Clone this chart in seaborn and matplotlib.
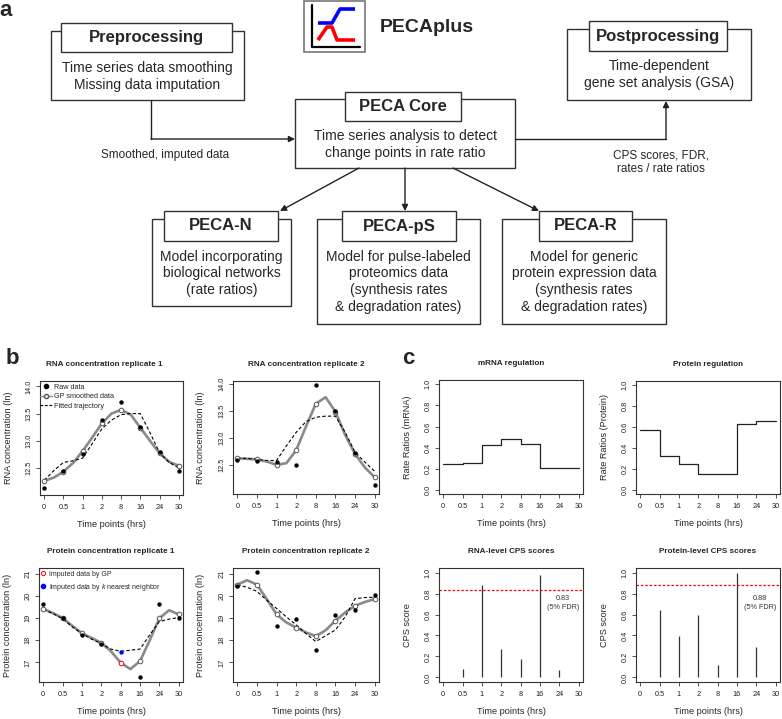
import numpy as np
import matplotlib
matplotlib.use("Agg")
import matplotlib.pyplot as plt
from matplotlib.patches import Rectangle
from matplotlib.lines import Line2D
import seaborn as sns

# ---- data ----
time_labels = ["0", "0.5", "1", "2", "8", "16", "24", "30"]
time_pos = np.arange(1, 9)
curve_pos = np.arange(1, 8.5, 0.5)

rna1_raw = [12.12, 12.44, 12.76, 13.39, 13.71, 13.26, 12.79, 12.44]
rna1_gp = [12.26, 12.43, 12.81, 13.32, 13.57, 13.24, 12.77, 12.54]
rna1_gp_curve = [12.26, 12.32, 12.43, 12.59, 12.81, 13.06, 13.32, 13.50, 13.57,
                 13.48, 13.24, 13.00, 12.77, 12.61, 12.54]
rna1_fit = [12.27, 12.45, 12.60, 12.63, 12.68, 12.95, 13.22, 13.38, 13.48,
            13.50, 13.50, 13.15, 12.78, 12.60, 12.50]

rna2_raw = [12.59, 12.57, 12.55, 12.50, 13.98, 13.49, 12.71, 12.12]
rna2_gp = [12.62, 12.60, 12.50, 12.77, 13.63, 13.48, 12.70, 12.27]
rna2_gp_curve = [12.62, 12.61, 12.60, 12.56, 12.50, 12.53, 12.77, 13.21, 13.63,
                 13.75, 13.48, 13.05, 12.70, 12.45, 12.27]
rna2_fit = [12.62, 12.62, 12.60, 12.58, 12.58, 12.85, 13.10, 13.30, 13.38,
            13.40, 13.40, 13.10, 12.73, 12.55, 12.38]

prot1_raw = [19.63, 19.00, 18.25, 17.84, np.nan, 16.33, 19.63, 19.01]
prot1_gp = [19.42, 19.00, 18.31, 17.88, np.nan, 17.06, 18.99, 19.16]
prot1_gp_imputed = 16.99
prot1_knn_imputed = 17.45
prot1_gp_curve = [19.42, 19.22, 19.00, 18.65, 18.31, 18.10, 17.88, 17.50, 16.99,
                  16.70, 17.06, 18.00, 18.99, 19.35, 19.16]
prot1_fit = [19.38, 19.20, 18.97, 18.60, 18.30, 18.05, 17.85, 17.60, 17.50,
             17.55, 17.60, 18.24, 18.84, 18.95, 19.02]

prot2_raw = [20.46, 21.06, 18.64, 18.94, 17.57, 19.15, 19.36, 20.04]
prot2_gp = [20.50, 20.50, 19.16, 18.57, 18.18, 18.88, 19.55, 19.85]
prot2_gp_curve = [20.50, 20.70, 20.50, 19.85, 19.16, 18.80, 18.57, 18.35, 18.18,
                  18.45, 18.88, 19.25, 19.55, 19.72, 19.85]
prot2_fit = [20.50, 20.38, 20.20, 19.80, 19.43, 19.05, 18.69, 18.30, 17.94,
             18.20, 18.46, 19.06, 19.87, 19.92, 19.93]

mrna_ratio = [0.25, 0.255, 0.425, 0.478, 0.434, 0.21, 0.207, 0.207]
prot_ratio = [0.57, 0.326, 0.248, 0.154, 0.15, 0.633, 0.661, 0.661]

rna_cps = [0, 0.079, 0.88, 0.268, 0.174, 0.975, 0.069, 0]
prot_cps = [0, 0.647, 0.394, 0.596, 0.117, 1.0, 0.287, 0]
rna_fdr, rna_fdr_label = 0.835, "0.83"
prot_fdr, prot_fdr_label = 0.886, "0.88"

# ---- style ----
sns.set_theme(style="ticks")
plt.rcParams['font.family'] = ['Liberation Sans', 'DejaVu Sans']
plt.rcParams['mathtext.fontset'] = 'custom'
plt.rcParams['mathtext.rm'] = 'Liberation Sans'
plt.rcParams['mathtext.it'] = 'Liberation Sans:italic'

W, H = 782, 719
fig = plt.figure(figsize=(W / 100, H / 100), dpi=100)


def px_axes(left, top, right, bottom):
    return fig.add_axes([left / W, 1 - bottom / H, (right - left) / W, (bottom - top) / H])


# ---- panel a: workflow diagram (pixel coordinates) ----
ax_a = fig.add_axes([0, 0, 1, 1])
ax_a.set_xlim(0, W)
ax_a.set_ylim(H, 0)
ax_a.axis('off')

EDGE = '#333333'


def node(outer, head, title, lines, y0):
    x0, t0, x1, b0 = outer
    ax_a.add_patch(Rectangle((x0, t0), x1 - x0, b0 - t0, fill=False, ec=EDGE, lw=1))
    hx0, ht, hx1, hb = head
    ax_a.add_patch(Rectangle((hx0, ht), hx1 - hx0, hb - ht, fc='white', ec=EDGE, lw=1, zorder=3))
    ax_a.text((hx0 + hx1) / 2, (ht + hb) / 2, title, ha='center', va='center',
              fontsize=12, fontweight='bold', zorder=4)
    for i, s in enumerate(lines):
        ax_a.text((x0 + x1) / 2, y0 + i * 16.5, s, ha='center', va='center', fontsize=10)


node((51, 31, 244, 100), (61, 23, 232, 52), "Preprocessing",
     ["Time series data smoothing", "Missing data imputation"], 68)
node((567, 29, 751, 100), (589, 21, 727, 51), "Postprocessing",
     ["Time-dependent", "gene set analysis (GSA)"], 66)
node((295, 99, 515, 168), (345, 92, 461, 121), "PECA Core",
     ["Time series analysis to detect", "change points in rate ratio"], 136)
node((152, 219, 291, 306), (164, 211, 278, 241), "PECA-N",
     ["Model incorporating", "biological networks", "(rate ratios)"], 257)
node((317, 219, 480, 324), (342, 211, 456, 241), "PECA-pS",
     ["Model for pulse-labeled", "proteomics data", "(synthesis rates", "& degradation rates)"], 257)
node((502, 219, 666, 324), (539, 211, 632, 241), "PECA-R",
     ["Model for generic", "protein expression data", "(synthesis rates", "& degradation rates)"], 257)

arrow = dict(arrowstyle='-|>', color='#222222', lw=1, mutation_scale=9, shrinkA=0, shrinkB=0)
ax_a.plot([151, 151], [100, 139], color='#222222', lw=1)
ax_a.annotate('', xy=(295, 139), xytext=(151, 139), arrowprops=arrow)
ax_a.plot([515, 666], [139, 139], color='#222222', lw=1)
ax_a.annotate('', xy=(666, 101), xytext=(666, 139), arrowprops=arrow)
for (sx, sy), (ex, ey) in [((359, 168), (280, 211)), ((405, 168), (405, 211)), ((453, 168), (539, 211))]:
    ax_a.annotate('', xy=(ex, ey), xytext=(sx, sy), arrowprops=arrow)

ax_a.text(165, 155, "Smoothed, imputed data", ha='center', va='center', fontsize=8.5)
ax_a.text(661, 155, "CPS scores, FDR,", ha='center', va='center', fontsize=8.5)
ax_a.text(661, 169, "rates / rate ratios", ha='center', va='center', fontsize=8.5)

# logo
ax_a.add_patch(Rectangle((304, 1), 61, 51, fill=False, ec='#777777', lw=1.2))
ax_a.plot([312, 312, 360], [5, 47, 47], color='black', lw=1.6)
ax_a.plot([318, 332, 340, 355], [23, 23, 9, 9], color='#0000ff', lw=2.6, solid_capstyle='butt')
ax_a.plot([318, 327, 332, 337, 355], [40, 27, 27, 40, 40], color='#ff0000', lw=2.6, solid_capstyle='butt')
ax_a.text(380, 28, "PECAplus", ha='left', va='center', fontsize=14, fontweight='bold')

for lab, (x, y) in {"a": (6, 10), "b": (12, 358), "c": (408, 359)}.items():
    ax_a.text(x, y, lab, ha='center', va='center', fontsize=16, fontweight='bold')


# ---- R-like axes ----
def r_style(ax, ylim, yticks, ylabels, title, ylabel, title_x=0.5):
    ax.set_xlim(0.78, 8.22)
    ax.set_ylim(*ylim)
    ax.set_xticks(time_pos, time_labels)
    ax.set_yticks(yticks, ylabels)
    for sp in ax.spines.values():
        sp.set_visible(True)
        sp.set_color('#333333')
        sp.set_linewidth(0.8)
    ax.tick_params(axis='both', direction='out', length=3, width=0.6, color='#333333',
                   labelsize=5.3, pad=2.5, labelcolor='#222222')
    ax.tick_params(axis='x', pad=3.5)
    ax.tick_params(axis='y', labelrotation=90)
    for lab in ax.get_yticklabels():
        lab.set_va('center')
    ax.set_title(title, fontsize=5.9, fontweight='bold', pad=10.5, x=title_x)
    ax.set_xlabel('Time points (hrs)', fontsize=6.6)
    ax.set_ylabel(ylabel, fontsize=6.6)
    ax.xaxis.set_label_coords(0.5, -0.222)
    ax.yaxis.set_label_coords(-0.19, 0.5)


def concentration(ax, raw, gp, curve, fit):
    sns.lineplot(x=curve_pos, y=curve, ax=ax, color='#8a8a8a', lw=1.9, estimator=None, sort=False)
    sns.lineplot(x=curve_pos, y=fit, ax=ax, color='black', lw=0.8, linestyle=(0, (3, 2)),
                 estimator=None, sort=False)
    sns.scatterplot(x=time_pos, y=gp, ax=ax, color='white', edgecolor='#555555', linewidth=0.7,
                    s=11, zorder=3)
    sns.scatterplot(x=time_pos, y=raw, ax=ax, color='black', edgecolor='black', linewidth=0,
                    s=10, zorder=4)


rna_ticks = [12.5, 13.0, 13.5, 14.0]
prot_ticks = [17, 18, 19, 20, 21]

ax = px_axes(40, 381, 183, 495)
concentration(ax, rna1_raw, rna1_gp, rna1_gp_curve, rna1_fit)
r_style(ax, (12.0, 14.1), rna_ticks, [f"{v:.1f}" for v in rna_ticks],
        "RNA concentration replicate 1", "RNA concentration (ln)", title_x=0.45)
handles = [Line2D([], [], marker='o', ls='none', color='black', ms=3),
           Line2D([], [], marker='o', color='#8a8a8a', lw=1.0, mfc='white', mec='#555555', ms=3),
           Line2D([], [], ls=(0, (2.5, 1.5)), color='black', lw=0.8)]
ax.legend(handles, ["Raw data", "GP smoothed data", "Fitted trajectory"], loc='upper left',
          bbox_to_anchor=(-0.02, 1.0), frameon=False, fontsize=5.2, handlelength=1.6,
          handletextpad=0.4, labelspacing=0.32, borderaxespad=0.2, borderpad=0.2)

ax = px_axes(233, 381, 379, 494)
concentration(ax, rna2_raw, rna2_gp, rna2_gp_curve, rna2_fit)
r_style(ax, (11.96, 14.05), rna_ticks, [f"{v:.1f}" for v in rna_ticks],
        "RNA concentration replicate 2", "RNA concentration (ln)")

ax = px_axes(39, 568, 183, 682)
concentration(ax, prot1_raw, prot1_gp, prot1_gp_curve, prot1_fit)
sns.scatterplot(x=[time_pos[4]], y=[prot1_gp_imputed], ax=ax, color='white', edgecolor='red',
                linewidth=0.7, s=11, zorder=5)
sns.scatterplot(x=[time_pos[4]], y=[prot1_knn_imputed], ax=ax, color='blue', edgecolor='blue',
                linewidth=0, s=10, zorder=5)
r_style(ax, (16.12, 21.25), prot_ticks, [str(v) for v in prot_ticks],
        "Protein concentration replicate 1", "Protein concentration (ln)")
handles = [Line2D([], [], marker='o', ls='none', mfc='white', mec='red', mew=0.7, ms=3),
           Line2D([], [], marker='o', ls='none', color='blue', ms=3)]
ax.legend(handles, ["Imputed data by GP", r"Imputed data by $\it{k}$ nearest neighbor"],
          loc='upper left', bbox_to_anchor=(-0.01, 1.0), frameon=False, fontsize=5.0,
          handlelength=0.8, handletextpad=0.4, labelspacing=0.55, borderaxespad=0.2, borderpad=0.2)

ax = px_axes(233, 568, 379, 682)
concentration(ax, prot2_raw, prot2_gp, prot2_gp_curve, prot2_fit)
r_style(ax, (16.12, 21.25), prot_ticks, [str(v) for v in prot_ticks],
        "Protein concentration replicate 2", "Protein concentration (ln)")

# ---- panel c ----
ratio_ticks = [0.0, 0.2, 0.4, 0.6, 0.8, 1.0]
ratio_labels = [f"{v:.1f}" for v in ratio_ticks]

ax = px_axes(439, 380, 583, 494)
sns.lineplot(x=time_pos, y=mrna_ratio, ax=ax, drawstyle='steps-post', color='#222222', lw=0.9,
             estimator=None, sort=False)
r_style(ax, (-0.037, 1.04), ratio_ticks, ratio_labels, "mRNA regulation", "Rate Ratios (mRNA)")

ax = px_axes(636, 381, 780, 494)
sns.lineplot(x=time_pos, y=prot_ratio, ax=ax, drawstyle='steps-post', color='#222222', lw=0.9,
             estimator=None, sort=False)
r_style(ax, (-0.037, 1.04), ratio_ticks, ratio_labels, "Protein regulation", "Rate Ratios (Protein)")


def cps(ax, scores, fdr, label, title):
    ax.vlines(time_pos, 0, scores, color='#333333', lw=0.9)
    ax.axhline(fdr, color='red', lw=0.9, linestyle=(0, (2, 1.5)))
    ax.text(7.2, 0.75, label, ha='center', va='center', fontsize=5.2, color='#333333')
    ax.text(7.2, 0.665, "(5% FDR)", ha='center', va='center', fontsize=5.2, color='#333333')
    r_style(ax, (-0.044, 1.044), ratio_ticks, ratio_labels, title, "CPS score")


ax = px_axes(439, 568, 583, 682)
cps(ax, rna_cps, rna_fdr, rna_fdr_label, "RNA-level CPS scores")
ax = px_axes(636, 568, 780, 682)
cps(ax, prot_cps, prot_fdr, prot_fdr_label, "Protein-level CPS scores")

fig.savefig("out.png", dpi=100)
